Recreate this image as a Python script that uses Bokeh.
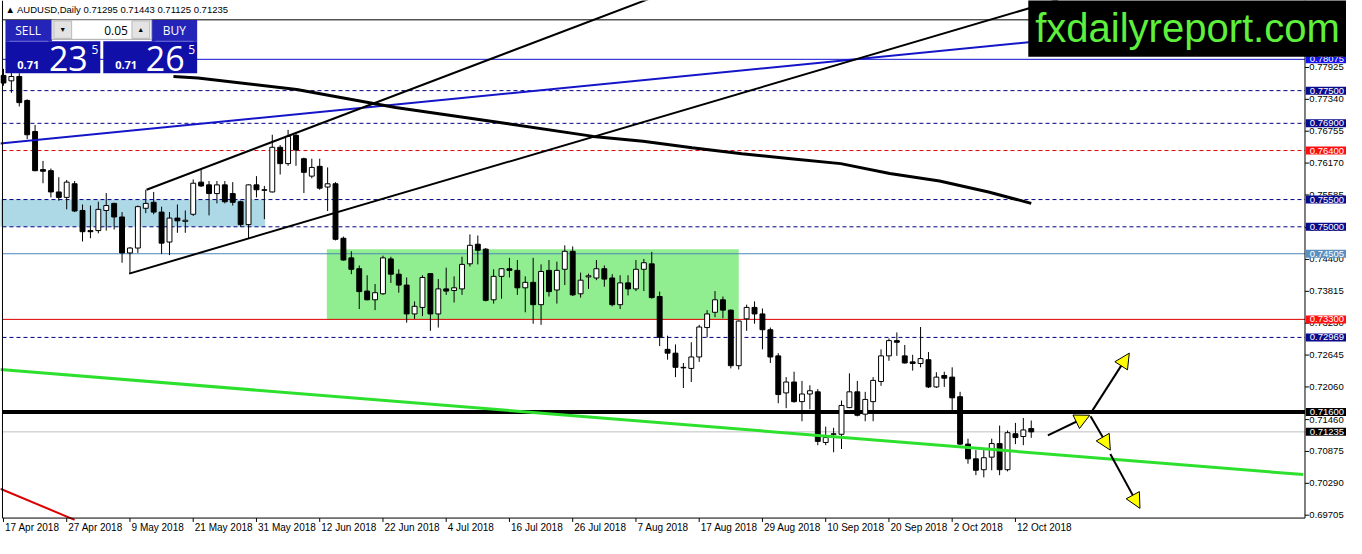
#AUDUSD daily chart, MT4 style

from bokeh.plotting import figure
from bokeh.models import (Range1d, Label, BoxAnnotation, Arrow, NormalHead,
                          ColumnDataSource)
from bokeh.core.properties import value
from bokeh.embed import file_html
from bokeh.resources import INLINE

#candles, 17 Apr 2018 .. 16 Oct 2018
opens = [0.7778, 0.7768, 0.7776, 0.7732, 0.7675, 0.7605, 0.7603, 0.7564, 0.7554, 0.7579,
         0.7530, 0.7493, 0.7493, 0.7530, 0.7543, 0.7518, 0.7452, 0.7461, 0.7534, 0.7545,
         0.7527, 0.7472, 0.7516, 0.7510, 0.7523, 0.7582, 0.7577, 0.7561, 0.7577, 0.7561,
         0.7546, 0.7504, 0.7577, 0.7568, 0.7564, 0.7646, 0.7616, 0.7668, 0.7625, 0.7593,
         0.7611, 0.7573, 0.7579, 0.7479, 0.7443, 0.7423, 0.7382, 0.7366, 0.7377, 0.7441,
         0.7413, 0.7393, 0.7340, 0.7352, 0.7414, 0.7340, 0.7386, 0.7383, 0.7386, 0.7432,
         0.7468, 0.7459, 0.7366, 0.7409, 0.7423, 0.7420, 0.7388, 0.7398, 0.7357, 0.7420,
         0.7384, 0.7422, 0.7455, 0.7377, 0.7408, 0.7406, 0.7423, 0.7406, 0.7357, 0.7397,
         0.7386, 0.7422, 0.7432, 0.7372, 0.7275, 0.7268, 0.7242, 0.7240, 0.7261, 0.7315,
         0.7343, 0.7366, 0.7347, 0.7245, 0.7331, 0.7352, 0.7340, 0.7311, 0.7263, 0.7195,
         0.7215, 0.7179, 0.7193, 0.7197, 0.7104, 0.7119, 0.7119, 0.7168, 0.7197, 0.7156,
         0.7179, 0.7216, 0.7263, 0.7291, 0.7263, 0.7252, 0.7249, 0.7256, 0.7206, 0.7227,
         0.7224, 0.7188, 0.7101, 0.7074, 0.7054, 0.7077, 0.7102, 0.7054, 0.7120, 0.7115,
         0.71295]
highs = [0.7790, 0.7787, 0.7782, 0.7734, 0.7687, 0.7621, 0.7607, 0.7591, 0.7586, 0.7584,
         0.7541, 0.7539, 0.7546, 0.7562, 0.7544, 0.7527, 0.7463, 0.7539, 0.7568, 0.7564,
         0.7537, 0.7527, 0.7541, 0.7530, 0.7587, 0.7605, 0.7584, 0.7584, 0.7584, 0.7582,
         0.7548, 0.7578, 0.7593, 0.7575, 0.7669, 0.7650, 0.7678, 0.7671, 0.7627, 0.7625,
         0.7625, 0.7609, 0.7582, 0.7482, 0.7455, 0.7429, 0.7411, 0.7395, 0.7447, 0.7445,
         0.7422, 0.7407, 0.7363, 0.7411, 0.7415, 0.7404, 0.7425, 0.7409, 0.7445, 0.7486,
         0.7484, 0.7461, 0.7422, 0.7424, 0.7443, 0.7439, 0.7409, 0.7443, 0.7431, 0.7439,
         0.7436, 0.7466, 0.7464, 0.7416, 0.7414, 0.7439, 0.7429, 0.7413, 0.7411, 0.7411,
         0.7439, 0.7441, 0.7454, 0.7381, 0.7300, 0.7284, 0.7250, 0.7288, 0.7320, 0.7347,
         0.7382, 0.7372, 0.7348, 0.7328, 0.7357, 0.7363, 0.7350, 0.7315, 0.7268, 0.7224,
         0.7234, 0.7217, 0.7209, 0.7202, 0.7133, 0.7131, 0.7181, 0.7231, 0.7217, 0.7197,
         0.7224, 0.7275, 0.7295, 0.7306, 0.7283, 0.7265, 0.7316, 0.7270, 0.7233, 0.7234,
         0.7242, 0.7197, 0.7111, 0.7090, 0.7090, 0.7111, 0.7135, 0.7126, 0.7140, 0.7149,
         0.71443]
lows = [0.7759, 0.7746, 0.7721, 0.7661, 0.7602, 0.7580, 0.7554, 0.7548, 0.7532, 0.7527,
        0.7473, 0.7479, 0.7488, 0.7493, 0.7495, 0.7434, 0.7414, 0.7452, 0.7525, 0.7523,
        0.7450, 0.7448, 0.7489, 0.7489, 0.7520, 0.7573, 0.7521, 0.7543, 0.7543, 0.7539,
        0.7500, 0.7479, 0.7554, 0.7514, 0.7563, 0.7596, 0.7612, 0.7612, 0.7562, 0.7589,
        0.7568, 0.7529, 0.7475, 0.7438, 0.7413, 0.7349, 0.7365, 0.7347, 0.7375, 0.7397,
        0.7379, 0.7324, 0.7331, 0.7336, 0.7309, 0.7315, 0.7375, 0.7361, 0.7375, 0.7427,
        0.7431, 0.7363, 0.7359, 0.7368, 0.7407, 0.7375, 0.7343, 0.7322, 0.7320, 0.7372,
        0.7359, 0.7393, 0.7373, 0.7370, 0.7386, 0.7402, 0.7390, 0.7354, 0.7349, 0.7374,
        0.7382, 0.7382, 0.7368, 0.7281, 0.7256, 0.7224, 0.7204, 0.7215, 0.7252, 0.7297,
        0.7334, 0.7332, 0.7240, 0.7238, 0.7309, 0.7322, 0.7275, 0.7250, 0.7176, 0.7167,
        0.7177, 0.7143, 0.7165, 0.7099, 0.7099, 0.7086, 0.7092, 0.7167, 0.7152, 0.7143,
        0.7143, 0.7208, 0.7254, 0.7263, 0.7249, 0.7236, 0.7242, 0.7204, 0.7204, 0.7206,
        0.7163, 0.7099, 0.7065, 0.7044, 0.7040, 0.7053, 0.7044, 0.7051, 0.7101, 0.7099,
        0.71125]
closes = [0.7764, 0.7776, 0.7728, 0.7669, 0.7603, 0.7602, 0.7564, 0.7554, 0.7582, 0.7529,
          0.7491, 0.7491, 0.7532, 0.7539, 0.7518, 0.7452, 0.7461, 0.7537, 0.7543, 0.7527,
          0.7470, 0.7516, 0.7511, 0.7512, 0.7580, 0.7575, 0.7561, 0.7577, 0.7546, 0.7545,
          0.7504, 0.7577, 0.7568, 0.7567, 0.7646, 0.7616, 0.7666, 0.7641, 0.7600, 0.7609,
          0.7571, 0.7579, 0.7477, 0.7439, 0.7422, 0.7381, 0.7366, 0.7379, 0.7443, 0.7413,
          0.7393, 0.7340, 0.7354, 0.7407, 0.7340, 0.7386, 0.7382, 0.7388, 0.7431, 0.7466,
          0.7457, 0.7365, 0.7409, 0.7423, 0.7420, 0.7388, 0.7398, 0.7357, 0.7418, 0.7381,
          0.7420, 0.7455, 0.7375, 0.7402, 0.7410, 0.7423, 0.7404, 0.7357, 0.7397, 0.7386,
          0.7422, 0.7434, 0.7370, 0.7297, 0.7268, 0.7242, 0.7241, 0.7261, 0.7316, 0.7340,
          0.7366, 0.7347, 0.7245, 0.7327, 0.7352, 0.7340, 0.7311, 0.7261, 0.7192, 0.7215,
          0.7179, 0.7193, 0.7199, 0.7106, 0.7113, 0.7120, 0.7172, 0.7197, 0.7154, 0.7183,
          0.7218, 0.7263, 0.7291, 0.7288, 0.7250, 0.7249, 0.7258, 0.7206, 0.7224, 0.7222,
          0.7186, 0.7101, 0.7074, 0.7053, 0.7076, 0.7102, 0.7054, 0.7122, 0.7113, 0.7127,
          0.71235]

date_ticks = [0, 8, 16, 24, 32, 40, 48, 56, 64, 72, 80, 88, 96, 104, 112, 120, 128]
date_labels = ["17 Apr 2018", "27 Apr 2018", "9 May 2018", "21 May 2018", "31 May 2018",
               "12 Jun 2018", "22 Jun 2018", "4 Jul 2018", "16 Jul 2018", "26 Jul 2018",
               "7 Aug 2018", "17 Aug 2018", "29 Aug 2018", "10 Sep 2018", "20 Sep 2018",
               "2 Oct 2018", "12 Oct 2018"]
price_ticks = [0.69705, 0.70290, 0.70875, 0.71460, 0.72060, 0.72645, 0.73230, 0.73815,
               0.74400, 0.74985, 0.75585, 0.76170, 0.76755, 0.77340, 0.77925]

#horizontal levels
levels = [0.78800, 0.78075, 0.77500, 0.76900, 0.76400, 0.75500, 0.75000, 0.74505,
          0.73300, 0.72969, 0.71600, 0.71235]
level_colors = ["black", "#1010d0", "#000080", "#000080", "#e00000", "#000080", "#000080",
                "#4a86b8", "#e00000", "#000080", "black", "#c0c0c0"]
level_dashes = ["solid", "solid", "4 3", "4 3", "4 3", "4 3", "4 3", "solid", "solid",
                "4 3", "solid", "solid"]
level_widths = [1, 1, 1, 1, 1, 1, 1, 1, 1, 1, 4, 1]
tag_colors = [None, "#1414e6", "#0a0a8c", "#0a0a8c", "#ff1010", "#0a0a8c", "#0a0a8c",
              "#5b8fbf", "#ff1010", "#0a0a8c", "black", "black"]

#zones
zone_left = [-0.5, 40.9]
zone_right = [33.1, 93.0]
zone_bottom = [0.7500, 0.7330]
zone_top = [0.7550, 0.7459]
zone_colors = ["#add8e6", "#90ee90"]

#trend lines (bar index, price)
blue_x = [-0.4, 164.6]
blue_y = [0.7653, 0.7889]
chan_up_x = [18.1, 82.1]
chan_up_y = [0.7568, 0.7921]
chan_low_x = [15.9, 133.4]
chan_low_y = [0.7414, 0.7917]
green_x = [-0.4, 164.4]
green_y = [0.7238, 0.7045]
red_x = [-0.4, 9.0]
red_y = [0.7019, 0.6962]
ma_x = [21.5, 24.6, 37.1, 49.6, 62.1, 74.6, 80.9, 87.1, 93.4, 99.6, 105.9, 112.1, 118.4, 124.6, 130.0]
ma_y = [0.7776, 0.7773, 0.7752, 0.7719, 0.7693, 0.7666, 0.7657, 0.7645, 0.7634, 0.7625,
        0.7616, 0.7598, 0.7584, 0.7564, 0.7543]

#scenario arrows
arrow_x0 = [132.1, 137.75, 137.5, 140.0]
arrow_y0 = [0.7117, 0.7163, 0.7152, 0.7083]
arrow_x1 = [137.4, 142.4, 140.0, 143.75]
arrow_y1 = [0.7154, 0.7268, 0.7090, 0.6983]

bid = 0.71235
ask = 0.71265
lot = "0.05"

#layout: whole canvas is the frame, axes drawn by hand
FW = 1346
FH = 538
KX = FW / 1362
KY = FH / 554
X_LEFT = -0.125     # chart border
X_AXIS = 164.625    # price scale line
Y_AXIS = 0.69652    # time scale line
TICK_X = 0.5        # 4px in bars
TICK_Y = 0.00071    # 4px in price


def sx(px):
    return px * KX


def sy(py):
    return FH - py * KY


f = figure(frame_width=FW, frame_height=FH, output_backend="svg", toolbar_location=None,
           x_range=Range1d(-0.375, 169.875), y_range=Range1d(0.69277, 0.79155),
           min_border_left=0, min_border_top=0, min_border_right=0, min_border_bottom=0)
f.grid.visible = False
f.axis.visible = False
f.outline_line_color = None
f.background_fill_color = "white"

#zones
f.quad(left=zone_left, right=zone_right, top=zone_top, bottom=zone_bottom,
       fill_color=zone_colors, line_color=None)

#levels
for lv, c, d, w in zip(levels, level_colors, level_dashes, level_widths):
    f.segment(X_LEFT, lv, X_AXIS, lv, line_color=c, line_dash=d, line_width=w)

#candles
bars = list(range(len(opens)))
body_top = [max(o, c) for o, c in zip(opens, closes)]
body_bot = [min(o, c) for o, c in zip(opens, closes)]
body_col = ["white" if c >= o else "black" for o, c in zip(opens, closes)]
f.segment(bars, highs, bars, lows, line_color="black", line_width=1)
f.vbar(x=bars, width=0.62, top=body_top, bottom=body_bot, fill_color=body_col,
       line_color="black", line_width=1)

#trend lines
f.line(blue_x, blue_y, line_color="#1515c8", line_width=2)
f.line(chan_up_x, chan_up_y, line_color="black", line_width=2)
f.line(chan_low_x, chan_low_y, line_color="black", line_width=2)
f.line(green_x, green_y, line_color="#2de02d", line_width=3)
f.line(red_x, red_y, line_color="#dd0000", line_width=2)
f.line(ma_x, ma_y, line_color="black", line_width=3)

src = ColumnDataSource(dict(x0=arrow_x0, y0=arrow_y0, x1=arrow_x1, y1=arrow_y1))
f.add_layout(Arrow(end=NormalHead(size=15, fill_color="#ffff00", line_color="black", line_width=1),
                   x_start="x0", y_start="y0", x_end="x1", y_end="y1", source=src,
                   line_color="black", line_width=2))

#axes
f.segment(X_LEFT, Y_AXIS, X_LEFT, 0.79155, line_color="black", line_width=1)
f.segment(X_LEFT, Y_AXIS, X_AXIS, Y_AXIS, line_color="black", line_width=1)
f.segment(X_AXIS, Y_AXIS, X_AXIS, 0.79155, line_color="black", line_width=1)
f.segment(X_AXIS, price_ticks, X_AXIS + TICK_X, price_ticks, line_color="black")
f.segment(date_ticks, Y_AXIS, date_ticks, Y_AXIS - TICK_Y, line_color="black")
f.text(x=X_AXIS + 0.55, y=price_ticks, text=["%.5f" % p for p in price_ticks],
       text_font=value("Liberation Sans"), text_font_size="9.5px", text_color="black",
       text_baseline="middle", text_align="left")
f.text(x=[t + 0.2 for t in date_ticks], y=Y_AXIS - 0.0017, text=date_labels,
       text_font=value("Liberation Sans"), text_font_size="10px", text_color="black",
       text_baseline="middle", text_align="left")

#price tags
tag_y = [lv for lv, c in zip(levels, tag_colors) if c]
tag_c = [c for c in tag_colors if c]
f.text(x=X_AXIS + 0.1, y=tag_y, text=["%.5f" % lv for lv in tag_y],
       text_font=value("Liberation Sans"), text_font_size="9.5px", text_color="white",
       text_baseline="middle", text_align="left", background_fill_color=tag_c,
       padding=dict(left=4, right=12, top=1, bottom=1))

#header
f.add_layout(Label(x=sx(5), y=sy(9), x_units="screen", y_units="screen",
                   text="\u25b2 AUDUSD,Daily  %.5f %.5f %.5f %.5f" % (opens[-1], highs[-1], lows[-1], closes[-1]),
                   text_font="Liberation Sans", text_font_size="9.5px", text_color="black",
                   text_baseline="middle"))


#one click trading panel
def box(l, r, t, b, col, line=None):
    f.add_layout(BoxAnnotation(left=sx(l), right=sx(r), top=sy(t), bottom=sy(b),
                               left_units="screen", right_units="screen",
                               top_units="screen", bottom_units="screen",
                               fill_color=col, fill_alpha=1, line_color=line, line_alpha=1))


def txt(px, py, s, size, col="white", align="left", style="normal", font="Open Sans"):
    f.add_layout(Label(x=sx(px), y=sy(py), x_units="screen", y_units="screen", text=s,
                       text_font=font, text_font_size=size, text_color=col,
                       text_align=align, text_baseline="middle", text_font_style=style))


box(5, 52, 20, 42, "#2424b8")
box(153, 199, 20, 42, "#2424b8")
box(5, 101, 42, 75, "#1010a8")
box(104, 199, 42, 75, "#1010a8")
box(9, 48, 41.5, 42.5, "#6a6ad8")
box(157, 195, 41.5, 42.5, "#6a6ad8")
box(52, 153, 20, 40, "#ffffff", "#a8a8a8")
box(54, 72, 21, 39, "#e3e3e3", "#b8b8b8")
box(133, 151, 21, 39, "#e3e3e3", "#b8b8b8")
txt(28, 31, "SELL", "12px", align="center")
txt(176, 31, "BUY", "12px", align="center")
txt(63, 30, "\u25bc", "7px", col="black", align="center")
txt(142, 30, "\u25b2", "7px", col="black", align="center")
txt(129, 31, lot, "12px", col="black", align="right")
bs = "%.5f" % bid
As = "%.5f" % ask
txt(17, 66, bs[:4], "11px", style="bold")
txt(49, 60, bs[4:6], "34px")
txt(92, 50, bs[6], "12px")
txt(116, 66, As[:4], "11px", style="bold")
txt(147, 60, As[4:6], "34px")
txt(190, 50, As[6], "12px")

#watermark box
box(1040, 1364, -2, 58, "black")
txt(1047, 28, "fxdailyreport.com", "40px", col="#5ef03c", font="Liberation Sans")

open("out.html", "w").write(file_html(f, INLINE))
